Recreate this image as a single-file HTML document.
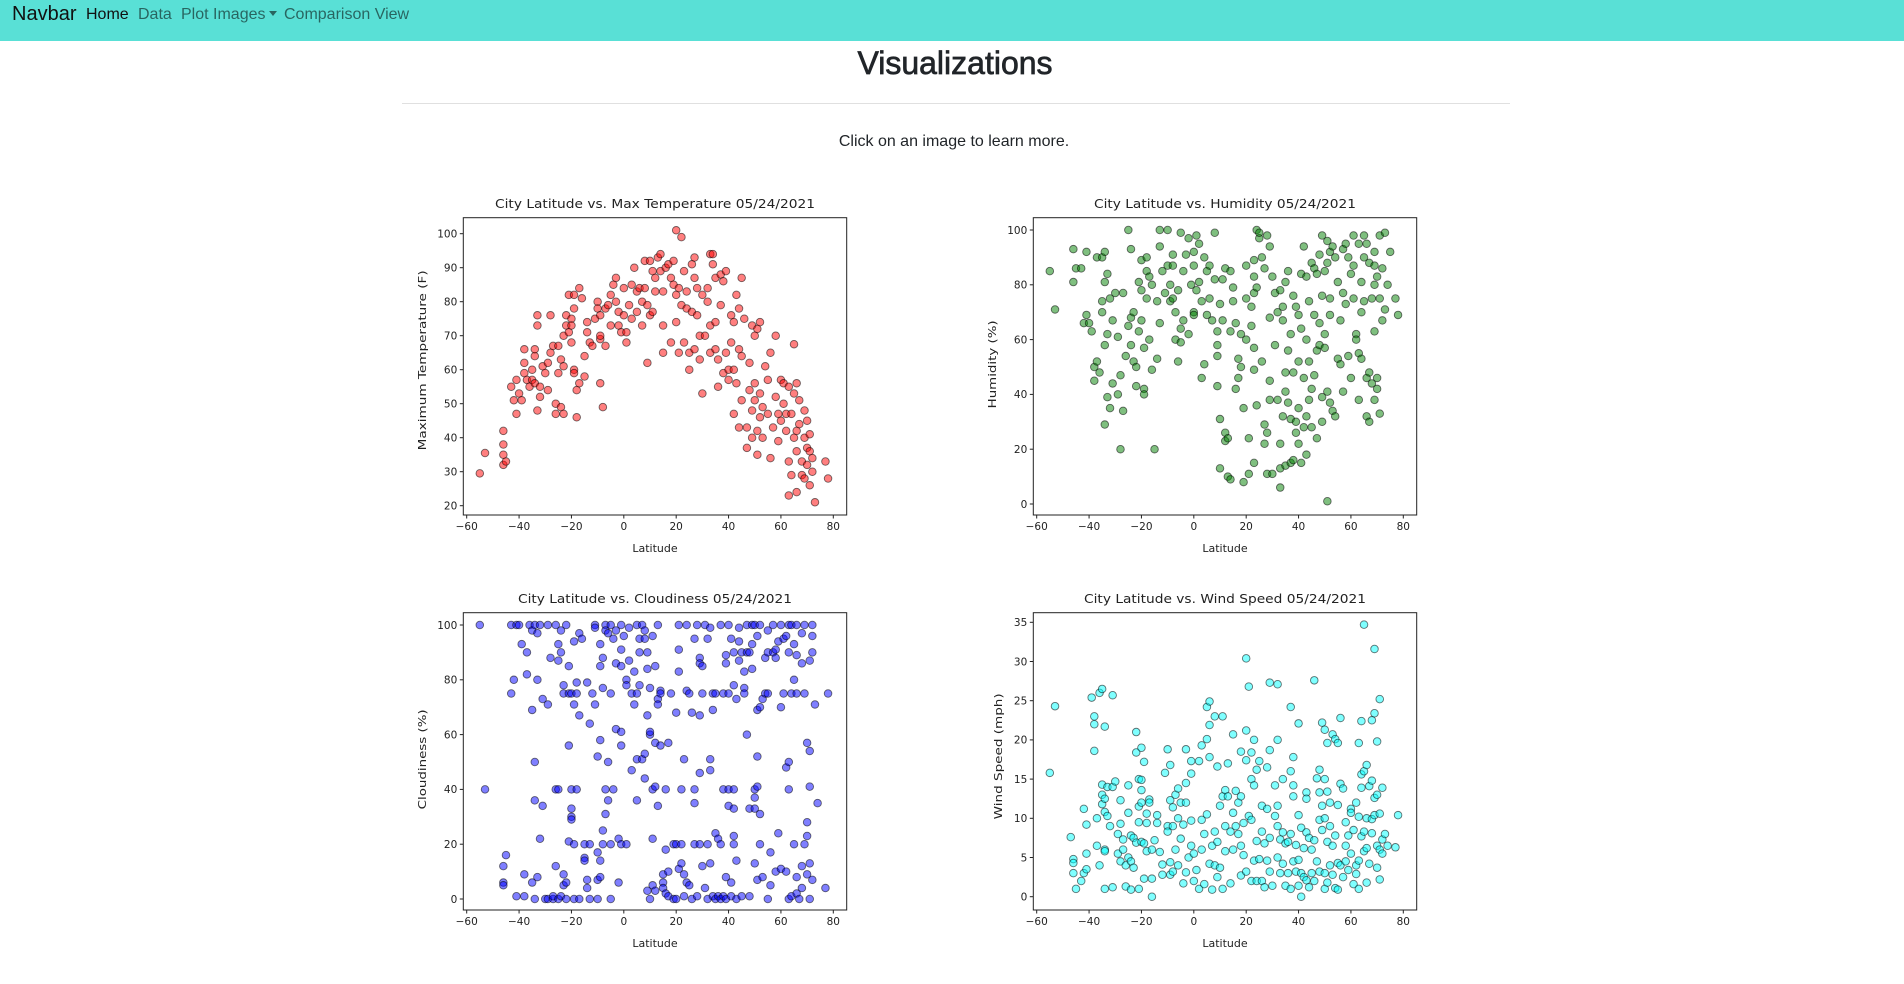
<!DOCTYPE html>
<html><head><meta charset="utf-8">
<style>
body{margin:0;width:1904px;height:984px;background:#fff;font-family:"Liberation Sans",sans-serif;position:relative;overflow:hidden;color:#212529}
.nav{position:absolute;left:0;top:0;width:1904px;height:41px;background:#59e0d6}
.nav .it{position:absolute;top:0;line-height:29px;font-size:16px;color:rgba(0,0,0,.55)}
.caret{display:inline-block;width:0;height:0;border-left:4px solid transparent;border-right:4px solid transparent;border-top:5px solid rgba(0,0,0,.55);vertical-align:3px;margin-left:4px}
.abs{position:absolute}
svg text{font-family:"DejaVu Sans",sans-serif;fill:#222}
</style></head><body>
<div class="nav">
 <div class="it" style="left:12px;font-size:20px;color:#111">Navbar</div>
 <div class="it" style="left:86px;color:#111">Home</div>
 <div class="it" style="left:138px">Data</div>
 <div class="it" style="left:181px">Plot Images<i class="caret"></i></div>
 <div class="it" style="left:284px">Comparison View</div>
</div>
<div class="abs" style="left:0;width:1910px;text-align:center;top:43px;font-size:32px;font-weight:normal;-webkit-text-stroke:0.7px #212529;line-height:40px">Visualizations</div>
<div class="abs" style="left:402px;width:1108px;top:103px;height:1px;background:#e0e0e0"></div>
<div class="abs" style="left:0;width:1908px;text-align:center;top:132px;font-size:16px;line-height:20px">Click on an image to learn more.</div>
<div id="charts"></div>
<script>
const tempData=[[-55,29.5],[-53,35.5],[-46,38],[-46,42],[-46,32],[-45,33],[-46,35],[-43,55],[-41,57],[-42,51],[-41,47],[-40,53],[-39,51],[-38,66],[-38,62],[-38,59],[-37,57],[-36,55],[-35,60],[-35,57],[-34,64],[-34,66],[-34,56],[-33,76],[-33,73],[-32,52],[-33,48],[-32,55],[-31,61],[-30,59],[-29,62],[-29,54],[-28,76],[-28,65],[-27,67],[-26,50],[-26,47],[-25,67],[-25,59],[-24,63],[-24,49],[-23,47],[-23,61],[-23,70],[-22,73],[-22,76],[-21,82],[-21,71],[-20,75],[-20,73],[-20,68],[-19,78],[-19,82],[-19,60],[-19,59],[-18,46],[-18,54],[-17,56],[-17,84],[-16,81],[-15,58],[-15,64],[-14,74],[-14,71],[-13,68],[-12,67],[-11,75],[-10,80],[-10,78],[-9,76],[-9,69],[-9,70],[-9,56],[-8,49],[-7,67],[-7,78],[-6,79],[-5,73],[-5,82],[-4,85],[-3,87],[-3,80],[-2,77],[-2,73],[-1,71],[0,84],[0,76],[1,68],[1,71],[2,79],[3,75],[3,85],[4,90],[5,83],[5,77],[6,84],[7,80],[7,73],[8,84],[8,92],[9,79],[9,62],[10,76],[10,92],[11,89],[11,77],[12,87],[12,83],[13,93],[14,94],[14,89],[15,83],[15,73],[15,65],[16,90],[17,91],[18,87],[18,68],[19,85],[19,92],[20,82],[20,74],[20,101],[21,84],[21,65],[22,79],[22,99],[23,89],[23,68],[24,83],[24,78],[25,65],[25,60],[26,91],[26,77],[27,93],[27,87],[27,66],[28,84],[28,76],[29,70],[29,63],[30,82],[30,53],[31,70],[32,80],[32,84],[33,94],[33,65],[33,73],[34,94],[34,91],[35,87],[35,74],[35,66],[36,63],[36,55],[37,88],[37,79],[38,86],[38,59],[39,89],[39,65],[40,60],[40,57],[41,68],[41,76],[42,47],[42,74],[42,60],[43,82],[43,56],[44,78],[44,66],[44,43],[45,87],[45,64],[45,51],[46,75],[47,43],[47,37],[48,62],[48,54],[49,73],[49,48],[49,40],[50,70],[50,56],[50,51],[51,72],[51,42],[51,35],[52,53],[52,74],[52,46],[53,40],[53,49],[54,61],[55,57],[55,47],[56,65],[56,34],[57,43],[58,52],[58,70],[59,47],[59,39],[60,57],[60,45],[61,56],[61,50],[62,47],[62,42],[63,55],[63,23],[63,33],[64,47],[64,29],[65,67.5],[65,53],[65,40],[66,56],[66,42],[66,24],[66,36],[67,44],[67,51],[68,33],[68,29],[69,48],[69,40],[69,28],[70,45],[70,32],[70,37],[71,41],[71,26],[71,36],[72,34],[72,30],[73,21],[77,33],[78,28]];
const humData=[[-55,85],[-53,71],[-46,81],[-46,93],[-45,86],[-43,86],[-42,66],[-41,69],[-41,92],[-40,66],[-39,63],[-38,50],[-38,45],[-37,90],[-37,52],[-36,48],[-35,90],[-35,70],[-35,74],[-34,81],[-34,92],[-34,29],[-34,58],[-33,62],[-33,84],[-33,39],[-32,35],[-32,75],[-31,67],[-31,44],[-30,77],[-29,61],[-29,40],[-28,47],[-28,20],[-27,77],[-27,34],[-26,54],[-25,65],[-25,100],[-24,93],[-24,68],[-24,58],[-23,52],[-23,70],[-22,43],[-22,50],[-21,81],[-21,63],[-20,89],[-20,78],[-20,67],[-19,42],[-19,40],[-19,57],[-18,85],[-18,90],[-18,75],[-17,60],[-17,83],[-16,80],[-16,49],[-15,20],[-14,74],[-14,53],[-13,100],[-13,94],[-13,66],[-12,85],[-11,77],[-10,100],[-10,87],[-9,74],[-9,80],[-8,87],[-8,91],[-8,75],[-7,70],[-7,60],[-6,52],[-6,78],[-5,99],[-5,59],[-5,64],[-4,67],[-4,85],[-3,91],[-2,97],[-2,62],[-1,80],[0,92],[0,87],[0,70],[0,69],[1,78],[1,98],[2,81],[2,95],[3,74],[3,46],[4,51],[4,90],[5,85],[5,69],[6,75],[6,87],[7,67],[8,99],[8,82],[9,43],[9,54],[9,58],[9,63],[10,73],[10,31],[10,13],[11,67],[11,82],[12,86],[12,26],[12,23],[13,10],[13,24],[14,9],[14,85],[14,63],[15,79],[15,74],[16,66],[16,42],[17,46],[17,53],[18,50],[18,62],[19,35],[19,8],[20,60],[20,75],[20,87],[21,24],[21,11],[22,65],[22,72],[23,83],[23,77],[23,89],[23,49],[23,57],[23,15],[24,79],[24,100],[24,36],[25,97],[25,99],[26,52],[26,90],[27,86],[27,22],[27,29],[28,98],[28,26],[28,11],[29,94],[29,68],[29,45],[29,38],[30,83],[30,11],[31,77],[31,58],[32,70],[32,38],[33,78],[33,13],[33,22],[33,6],[34,72],[34,32],[34,67],[35,81],[35,48],[35,41],[35,14],[36,56],[36,85],[36,37],[37,62],[37,31],[37,15],[38,76],[38,48],[38,16],[39,72],[39,30],[39,26],[40,69],[40,22],[40,52],[40,35],[41,84],[41,64],[41,15],[42,94],[42,46],[42,28],[43,83],[43,60],[43,32],[43,18],[44,74],[44,38],[44,52],[45,88],[45,42],[45,28],[46,86],[46,69],[46,47],[47,84],[47,56],[47,24],[48,91],[48,66],[48,58],[49,98],[49,76],[49,39],[49,30],[50,85],[50,57],[50,62],[51,96],[51,88],[51,41],[51,1],[52,92],[52,75],[52,69],[52,37],[53,94],[53,34],[54,90],[54,32],[55,81],[55,53],[56,67],[56,51],[57,93],[57,77],[57,41],[58,95],[58,73],[59,90],[59,54],[60,84],[60,46],[61,98],[61,87],[61,75],[62,62],[62,60],[63,95],[63,55],[63,38],[64,81],[64,70],[64,53],[65,98],[65,90],[65,74],[66,95],[66,46],[66,32],[67,88],[67,48],[67,30],[68,75],[68,44],[69,92],[69,87],[69,80],[69,63],[69,38],[70,83],[70,46],[70,42],[71,75],[71,33],[71,98],[72,86],[72,67],[73,99],[73,71],[74,80],[75,92],[77,75],[78,69]];
const cloudData=[[-55,100],[-53,40],[-46,12],[-46,6],[-46,5],[-45,16],[-43,75],[-43,100],[-42,80],[-41,100],[-41,1],[-40,100],[-39,93],[-38,9],[-38,1],[-37,90],[-37,82],[-36,100],[-35,98],[-35,69],[-35,6],[-34,100],[-34,50],[-34,36],[-34,0],[-33,97],[-33,80],[-33,8],[-32,100],[-32,22],[-31,34],[-31,73],[-30,0],[-29,100],[-29,71],[-29,0],[-28,88],[-27,0],[-27,1],[-26,40],[-26,12],[-26,100],[-25,93],[-25,87],[-25,40],[-25,0],[-24,1],[-24,98],[-24,90],[-23,78],[-23,75],[-23,9],[-23,5],[-22,100],[-22,6],[-22,0],[-21,85],[-21,75],[-21,56],[-21,21],[-20,75],[-20,40],[-20,33],[-20,30],[-20,29],[-19,94],[-19,71],[-19,20],[-19,0],[-18,79],[-18,75],[-18,40],[-17,97],[-17,67],[-17,0],[-16,95],[-15,20],[-15,15],[-15,14],[-14,79],[-14,7],[-14,4],[-13,64],[-13,20],[-13,0],[-12,75],[-11,100],[-11,99],[-11,71],[-10,17],[-10,52],[-10,7],[-10,0],[-9,93],[-9,85],[-9,58],[-9,14],[-9,8],[-8,88],[-8,77],[-8,25],[-8,20],[-7,100],[-7,98],[-7,40],[-7,31],[-6,97],[-6,50],[-6,36],[-5,100],[-5,75],[-5,20],[-5,0],[-4,95],[-4,40],[-3,98],[-3,62],[-3,86],[-2,22],[-2,6],[-1,100],[-1,91],[-1,85],[-1,61],[-1,56],[-1,20],[0,96],[1,80],[1,78],[1,20],[2,99],[2,87],[3,75],[3,47],[4,83],[4,71],[5,100],[5,51],[5,36],[5,75],[6,90],[6,78],[6,95],[7,100],[7,51],[8,98],[8,44],[8,53],[8,95],[9,67],[9,84],[9,90],[9,3],[10,77],[10,60],[10,61],[10,0],[11,96],[11,40],[11,5],[11,22],[12,85],[12,57],[12,41],[12,3],[13,73],[13,71],[13,34],[13,100],[14,76],[14,75],[14,56],[15,9],[15,6],[15,4],[16,40],[16,18],[16,2],[17,57],[17,10],[17,1],[18,75],[19,20],[19,0],[20,68],[20,20],[20,0],[21,100],[21,91],[21,83],[21,11],[22,40],[22,20],[22,13],[23,51],[23,9],[23,1],[24,76],[24,100],[24,6],[25,75],[25,5],[26,68],[26,0],[27,95],[27,35],[27,40],[27,20],[28,100],[28,1],[29,88],[29,86],[29,67],[29,46],[29,20],[30,85],[30,75],[30,12],[31,100],[31,4],[32,20],[32,95],[32,0],[33,99],[33,51],[33,47],[33,13],[34,75],[34,69],[34,1],[35,75],[35,24],[35,0],[36,22],[36,1],[37,100],[37,20],[37,0],[38,75],[38,40],[38,1],[39,89],[39,86],[39,8],[39,0],[40,100],[40,75],[40,40],[40,34],[41,95],[41,6],[41,1],[42,90],[42,78],[42,40],[42,33],[42,20],[42,23],[43,73],[43,14],[43,0],[44,99],[44,87],[44,94],[45,90],[45,1],[46,83],[46,77],[46,75],[47,100],[47,90],[47,60],[48,90],[48,33],[48,1],[49,84],[49,93],[49,100],[50,100],[50,40],[50,37],[50,33],[50,13],[51,96],[51,69],[51,52],[51,41],[51,7],[52,100],[52,70],[52,31],[52,20],[53,73],[53,8],[54,88],[54,75],[55,98],[55,90],[55,75],[55,0],[56,17],[56,5],[57,100],[57,90],[58,91],[58,88],[58,10],[59,94],[59,24],[60,100],[60,70],[60,11],[61,95],[61,75],[62,96],[62,48],[62,10],[63,100],[63,90],[63,50],[63,40],[63,0],[64,100],[64,75],[64,1],[65,93],[65,80],[65,20],[66,100],[66,75],[66,89],[66,8],[66,2],[67,0],[68,97],[68,86],[68,12],[68,4],[69,100],[69,75],[69,20],[70,23],[70,28],[70,9],[70,57],[71,87],[71,54],[71,41],[71,13],[71,0],[72,100],[72,96],[72,90],[72,7],[73,71],[74,35],[77,4],[78,75]];
const windData=[[-55,15.8],[-53,24.3],[-47,7.6],[-46,4.8],[-46,4.3],[-46,3],[-45,1],[-43,2],[-42,3],[-42,11.2],[-41,9.2],[-41,5.5],[-41,3.5],[-39,25.4],[-38,22],[-38,23],[-38,18.6],[-37,10],[-37,6.5],[-36,26],[-36,4],[-35,26.5],[-35,14.3],[-35,11.8],[-35,13],[-34,12.5],[-34,10.8],[-34,6],[-34,5.8],[-34,1],[-34,21.7],[-33,10.3],[-33,14],[-32,9],[-31,25.7],[-31,1.2],[-31,14],[-30,14.7],[-29,8],[-29,5.5],[-28,12.3],[-28,9.3],[-28,4.5],[-27,6],[-27,7.3],[-26,4],[-26,1.3],[-25,10.7],[-25,14.2],[-25,5],[-24,7.8],[-24,4.5],[-24,0.9],[-23,3.7],[-23,7.5],[-22,21],[-22,18.4],[-22,6.9],[-21,15],[-21,11.5],[-21,9.5],[-21,1],[-20,19],[-20,14.9],[-20,13.6],[-20,12],[-20,7],[-19,17.2],[-19,6.8],[-19,2.3],[-18,10.6],[-18,9.4],[-18,5.8],[-17,12.4],[-17,12],[-16,6],[-16,2.3],[-16,0],[-15,7.2],[-14,10.4],[-14,9.4],[-13,5.7],[-12,2.8],[-12,4.1],[-11,15.8],[-10,18.8],[-10,9],[-10,8.3],[-9,16.8],[-9,12.3],[-9,4.4],[-9,2.8],[-8,11.4],[-8,9],[-8,3.2],[-7,6],[-7,13],[-6,13.8],[-6,10],[-6,4],[-5,12],[-5,7.4],[-4,9.2],[-4,1.7],[-3,18.8],[-3,14.5],[-3,12],[-3,3.1],[-2,5],[-1,17.3],[-1,15.7],[-1,9.7],[-1,6.5],[0,2],[0,5.5],[1,3.4],[2,17.3],[2,1],[3,19.3],[3,9.8],[3,6],[4,1.6],[4,8],[5,10.5],[5,24.2],[5,20.1],[6,17.8],[6,21.9],[6,24.9],[6,4.2],[7,6.5],[7,0.9],[8,8.3],[8,23],[8,4],[9,16.6],[9,7],[9,2.5],[10,11.6],[10,3.7],[11,23],[11,12.8],[11,1],[12,13.6],[12,9],[12,5.8],[13,17],[13,12.8],[14,8.3],[14,1.7],[15,20.7],[15,10.7],[15,6],[16,13.5],[16,9],[17,12],[17,8],[18,18.5],[18,12.8],[18,6.5],[18,2.7],[19,5.3],[19,9.4],[20,30.4],[20,21.2],[20,17.4],[20,3.2],[21,26.8],[21,10.3],[22,18.4],[22,15],[22,9.8],[22,2],[23,20],[23,14.2],[23,4.6],[24,16.2],[24,7.1],[24,2],[25,17.3],[25,4.8],[26,11.6],[26,8.3],[26,2],[27,6.8],[27,1.2],[28,16.5],[28,11.2],[28,4.6],[29,27.3],[29,18.7],[29,7.5],[29,3.2],[30,1.4],[31,10.3],[31,14.2],[32,27.1],[32,20],[32,11.6],[32,9],[32,5],[33,7.3],[33,3],[34,15],[34,8.2],[34,4.2],[35,6.8],[35,1.4],[36,7],[36,3],[37,24.2],[37,16],[37,8],[37,1],[38,17.8],[38,14.2],[38,12.8],[38,4.5],[39,6.6],[39,3.2],[40,22.1],[40,10.4],[40,4.7],[40,1.4],[41,8.8],[41,3],[41,0],[42,6.2],[42,2.5],[43,13.3],[43,12.5],[43,8.2],[43,2.1],[44,7.5],[44,1.2],[45,6],[45,3],[46,27.6],[46,7.2],[46,2],[47,15.1],[47,4.5],[48,16.2],[48,13.3],[48,9.8],[48,3.2],[49,22.2],[49,11.6],[49,8.5],[50,21.3],[50,15],[50,10],[50,3],[50,1],[51,19.6],[51,13.4],[51,7],[51,1.8],[52,12],[52,9],[52,4],[53,20.7],[53,6.5],[53,2.8],[54,20.1],[54,7.8],[54,1.1],[55,19.6],[55,11.7],[55,4.3],[55,0.9],[56,22.8],[56,14.4],[56,4],[57,13.8],[57,2.5],[58,9.5],[58,6.5],[58,4.5],[59,7.8],[59,3.4],[60,11.2],[60,5.5],[60,10.7],[61,8.5],[61,1.6],[62,12],[62,4],[62,2.9],[63,19.6],[63,10.2],[63,4.6],[63,1],[64,22.4],[64,15.6],[64,13.9],[64,7.7],[65,34.7],[65,16],[65,8.3],[65,5.8],[66,16.8],[66,10],[66,6.2],[66,1.8],[67,4.2],[67,14.1],[68,22.5],[68,14.8],[68,9.9],[68,8.1],[69,31.6],[69,23.4],[69,12.6],[69,10.4],[70,19.8],[70,13],[70,6.5],[70,3.7],[71,25.2],[71,10.6],[71,6],[71,2.2],[72,13.9],[72,7.3],[72,5.5],[73,8],[74,6.5],[77,6.3],[78,10.4]];
const xTicks=[-60,-40,-20,0,20,40,60,80];
const tempTicks=[20,30,40,50,60,70,80,90,100];
const pctTicks=[0,20,40,60,80,100];
const windTicks=[0,5,10,15,20,25,30,35];

const NS='http://www.w3.org/2000/svg';
function mk(tag,attrs,parent){const e=document.createElementNS(NS,tag);for(const k in attrs)e.setAttribute(k,attrs[k]);parent.appendChild(e);return e;}
function chart(cfg){
 const svg=document.createElementNS(NS,'svg');
 svg.setAttribute('width',460);svg.setAttribute('height',380);
 svg.style.cssText='position:absolute;left:'+cfg.x+'px;top:'+cfg.y+'px';
 
 
 document.getElementById('charts').appendChild(svg);
 const L=63.3,R=446.7,T=37.7,B=335;
 const sx=v=>66.7+(v+60)*(433.3-66.7)/140;
 const sy=v=>cfg.y0px+(v-cfg.y0)*(cfg.y1px-cfg.y0px)/(cfg.y1-cfg.y0);
 const t=mk('text',{x:255,y:28,'text-anchor':'middle','font-size':12.5,textLength:cfg.titleLen,lengthAdjust:'spacingAndGlyphs'},svg);t.textContent=cfg.title;
 
 
 const g=mk('g',{},svg);
 
 
 cfg.data.forEach(d=>{const c=mk('circle',{cx:sx(d[0]),cy:sy(d[1]),r:3.8,fill:cfg.color,'fill-opacity':0.5,stroke:'#000','stroke-opacity':0.55,'stroke-width':0.9},g);
  
  });
 const fr=mk('rect',{x:L,y:T,width:R-L,height:B-T,fill:'none',stroke:'#222','stroke-width':1},svg);
 
 
 xTicks.forEach(v=>{mk('line',{x1:sx(v),x2:sx(v),y1:B,y2:B+3.5,stroke:'#222'},svg);
  const tx=mk('text',{x:sx(v),y:B+15,'text-anchor':'middle','font-size':10.5},svg);tx.textContent=v<0?'\u2212'+(-v):v;
  
  });
 cfg.ticks.forEach(v=>{mk('line',{x1:L,x2:L-3.5,y1:sy(v),y2:sy(v),stroke:'#222'},svg);
  const ty=mk('text',{x:L-6,y:sy(v)+3.8,'text-anchor':'end','font-size':10.5},svg);ty.textContent=v;
  
  });
 const xl=mk('text',{x:255,y:372,'text-anchor':'middle','font-size':11},svg);xl.textContent='Latitude';
 
 
 const cy=(T+B)/2+cfg.ylOff;
 const yl=mk('text',{x:0,y:0,'text-anchor':'middle','font-size':11,transform:'translate('+(cfg.ylx)+','+cy+') rotate(-90)',textLength:cfg.ylLen,lengthAdjust:'spacingAndGlyphs'},svg);yl.textContent=cfg.ylabel;
 
 
}
chart({name:'max-temperature-chart',x:400,y:180,data:tempData,color:'#ff0000',title:'City Latitude vs. Max Temperature 05/24/2021',titleLen:320,ticks:tempTicks,y0:20,y1:100,y0px:325.7,y1px:53.7,ylabel:'Maximum Temperature (F)',ylx:26,ylOff:-6,ylLen:180});
chart({name:'humidity-chart',x:970,y:180,data:humData,color:'#008000',title:'City Latitude vs. Humidity 05/24/2021',titleLen:262,ticks:pctTicks,y0:0,y1:100,y0px:324,y1px:50,ylabel:'Humidity (%)',ylx:26,ylOff:-2,ylLen:88});
chart({name:'cloudiness-chart',x:400,y:575,data:cloudData,color:'#0000ff',title:'City Latitude vs. Cloudiness 05/24/2021',titleLen:274,ticks:pctTicks,y0:0,y1:100,y0px:324,y1px:50,ylabel:'Cloudiness (%)',ylx:26,ylOff:-2,ylLen:100});
chart({name:'wind-speed-chart',x:970,y:575,data:windData,color:'#00ffff',title:'City Latitude vs. Wind Speed 05/24/2021',titleLen:282,ticks:windTicks,y0:0,y1:35,y0px:321.7,y1px:47.3,ylabel:'Wind Speed (mph)',ylx:32,ylOff:-5,ylLen:126});
</script>
</body></html>
